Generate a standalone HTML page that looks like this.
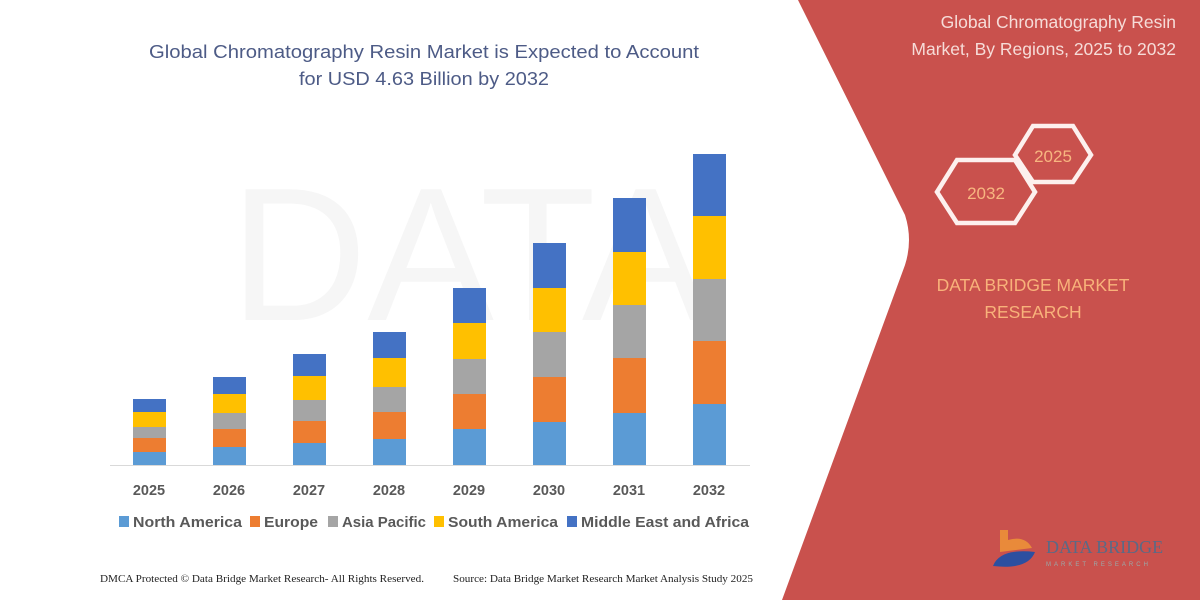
<!DOCTYPE html>
<html><head><meta charset="utf-8"><style>
body{margin:0;width:1200px;height:600px;overflow:hidden;background:#fff;font-family:"Liberation Sans",sans-serif}
</style></head><body>
<svg width="1200" height="600" viewBox="0 0 1200 600" xmlns="http://www.w3.org/2000/svg">
<rect width="1200" height="600" fill="#fff"/>
<text x="230" y="320" font-size="190" fill="#f6f6f6" font-family="Liberation Sans">DATA</text>
<path d="M798,0 L1200,0 L1200,600 L782,600 L905,265 Q913,240 905,215 Z" fill="#c9514d"/>
<g font-family="Liberation Sans" font-size="18.5" fill="#4d5b86" text-anchor="middle">
<text x="424" y="58" textLength="550" lengthAdjust="spacingAndGlyphs">Global Chromatography Resin Market is Expected to Account</text>
<text x="424" y="85" textLength="250" lengthAdjust="spacingAndGlyphs">for USD 4.63 Billion by 2032</text>
</g>
<g font-family="Liberation Sans" font-size="17.5" fill="#f6dcd8" text-anchor="end">
<text x="1176" y="28">Global Chromatography Resin</text>
<text x="1176" y="55">Market, By Regions, 2025 to 2032</text>
</g>
<polygon points="1015,155 1033,126 1073,126 1091,155 1073,182 1033,182" fill="none" stroke="#fdf0ee" stroke-width="4.5"/>
<polygon points="937,192 957,160 1015,160 1035,192 1015,223 957,223" fill="#c9514d" stroke="#fdf0ee" stroke-width="4.5"/>
<g font-family="Liberation Sans" font-size="17" fill="#f7b680" text-anchor="middle">
<text x="1053" y="162">2025</text>
<text x="986" y="199">2032</text>
</g>
<g font-family="Liberation Sans" font-size="17.5" fill="#f8b27a" text-anchor="middle">
<text x="1033" y="291">DATA BRIDGE MARKET</text>
<text x="1033" y="318">RESEARCH</text>
</g>
<g>
<g transform="translate(133,0)">
<rect y="452" width="33" height="13" fill="#5b9bd5"/><rect y="438" width="33" height="14" fill="#ed7d31"/><rect y="427" width="33" height="11" fill="#a5a5a5"/><rect y="412" width="33" height="15" fill="#ffc000"/><rect y="399" width="33" height="13" fill="#4472c4"/></g>
<g transform="translate(213,0)">
<rect y="447" width="33" height="18" fill="#5b9bd5"/><rect y="429" width="33" height="18" fill="#ed7d31"/><rect y="413" width="33" height="16" fill="#a5a5a5"/><rect y="394" width="33" height="19" fill="#ffc000"/><rect y="377" width="33" height="17" fill="#4472c4"/></g>
<g transform="translate(293,0)">
<rect y="443" width="33" height="22" fill="#5b9bd5"/><rect y="421" width="33" height="22" fill="#ed7d31"/><rect y="400" width="33" height="21" fill="#a5a5a5"/><rect y="376" width="33" height="24" fill="#ffc000"/><rect y="354" width="33" height="22" fill="#4472c4"/></g>
<g transform="translate(373,0)">
<rect y="439" width="33" height="26" fill="#5b9bd5"/><rect y="412" width="33" height="27" fill="#ed7d31"/><rect y="387" width="33" height="25" fill="#a5a5a5"/><rect y="358" width="33" height="29" fill="#ffc000"/><rect y="332" width="33" height="26" fill="#4472c4"/></g>
<g transform="translate(453,0)">
<rect y="429" width="33" height="36" fill="#5b9bd5"/><rect y="394" width="33" height="35" fill="#ed7d31"/><rect y="359" width="33" height="35" fill="#a5a5a5"/><rect y="323" width="33" height="36" fill="#ffc000"/><rect y="288" width="33" height="35" fill="#4472c4"/></g>
<g transform="translate(533,0)">
<rect y="422" width="33" height="43" fill="#5b9bd5"/><rect y="377" width="33" height="45" fill="#ed7d31"/><rect y="332" width="33" height="45" fill="#a5a5a5"/><rect y="288" width="33" height="44" fill="#ffc000"/><rect y="243" width="33" height="45" fill="#4472c4"/></g>
<g transform="translate(613,0)">
<rect y="413" width="33" height="52" fill="#5b9bd5"/><rect y="358" width="33" height="55" fill="#ed7d31"/><rect y="305" width="33" height="53" fill="#a5a5a5"/><rect y="252" width="33" height="53" fill="#ffc000"/><rect y="198" width="33" height="54" fill="#4472c4"/></g>
<g transform="translate(693,0)">
<rect y="404" width="33" height="61" fill="#5b9bd5"/><rect y="341" width="33" height="63" fill="#ed7d31"/><rect y="279" width="33" height="62" fill="#a5a5a5"/><rect y="216" width="33" height="63" fill="#ffc000"/><rect y="154" width="33" height="62" fill="#4472c4"/></g>
</g>
<line x1="110" y1="465.5" x2="750" y2="465.5" stroke="#d9d9d9" stroke-width="1"/>
<g font-family="Liberation Sans" font-size="14.5" font-weight="bold" fill="#595959" text-anchor="middle">
<text x="149" y="495">2025</text><text x="229" y="495">2026</text><text x="309" y="495">2027</text><text x="389" y="495">2028</text>
<text x="469" y="495">2029</text><text x="549" y="495">2030</text><text x="629" y="495">2031</text><text x="709" y="495">2032</text>
</g>
<g font-family="Liberation Sans" font-size="14.5" font-weight="bold" fill="#595959">
<rect x="119" y="516" width="10" height="11" fill="#5b9bd5"/><text x="133" y="527" textLength="109" lengthAdjust="spacingAndGlyphs">North America</text>
<rect x="250" y="516" width="10" height="11" fill="#ed7d31"/><text x="264" y="527" textLength="54" lengthAdjust="spacingAndGlyphs">Europe</text>
<rect x="328" y="516" width="10" height="11" fill="#a5a5a5"/><text x="342" y="527" textLength="84" lengthAdjust="spacingAndGlyphs">Asia Pacific</text>
<rect x="434" y="516" width="10" height="11" fill="#ffc000"/><text x="448" y="527" textLength="110" lengthAdjust="spacingAndGlyphs">South America</text>
<rect x="567" y="516" width="10" height="11" fill="#4472c4"/><text x="581" y="527" textLength="168" lengthAdjust="spacingAndGlyphs">Middle East and Africa</text>
</g>
<g font-family="Liberation Serif" font-size="10.5" fill="#222">
<text x="100" y="582" textLength="324" lengthAdjust="spacingAndGlyphs">DMCA Protected © Data Bridge Market Research-  All Rights Reserved.</text>
<text x="453" y="582" textLength="300" lengthAdjust="spacingAndGlyphs">Source: Data Bridge Market Research  Market Analysis Study 2025</text>
</g>
<path d="M1000,530 L1008,530 L1008,540 Q1025,535 1032,548 L1000,552 Z" fill="#e98a3a"/>
<path d="M993,566 Q1000,548 1035,552 Q1028,570 993,566 Z" fill="#2c4fa0"/>
<text x="1046" y="553" font-family="Liberation Serif" font-size="18" fill="#5a6a86">DATA BRIDGE</text>
<text x="1046" y="566" font-family="Liberation Sans" font-size="6" fill="#9aa" letter-spacing="3">MARKET RESEARCH</text>
</svg>
</body></html>
